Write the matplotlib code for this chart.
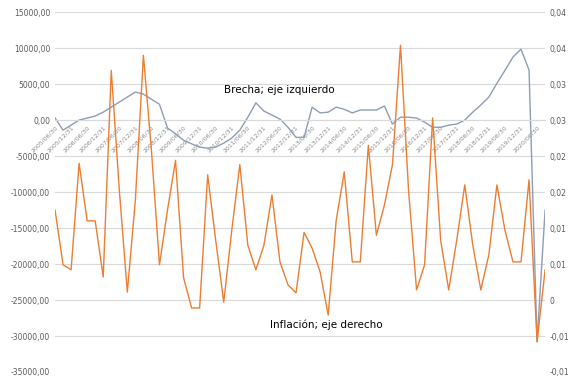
import matplotlib.pyplot as plt

# quarterly observations, labelled every two quarters
fechas = []
for year in range(2005, 2021):
    for md in ['03/31', '06/30', '09/30', '12/31']:
        fechas.append('%d/%s' % (year, md))
fechas = fechas[1:63]

brecha = [300, -1400, -700, 0, 280, 560, 1100, 1800, 2500, 3200,
          3900, 3600, 2900, 2200, -1100, -1900, -2800, -3300, -3750, -3900,
          -3750, -3200, -2500, -1400, 400, 2400, 1250, 700, 140, -1000,
          -2400, -2400, 1800, 1000, 1100, 1800, 1500, 1000, 1400, 1400,
          1400, 1950, -550, 400, 400, 280, -280, -1000, -1000, -700,
          -550, 0, 1100, 2100, 3200, 5100, 6900, 8750, 9860, 6950,
          -30800, -12500]

inflacion = [0.0125, 0.0049, 0.0042, 0.0190, 0.0110, 0.0110, 0.0032, 0.0319, 0.0153, 0.0011,
             0.0139, 0.0340, 0.0208, 0.0049, 0.0125, 0.0194, 0.0031, -0.0011, -0.0011, 0.0174,
             0.0083, -0.0003, 0.0097, 0.0188, 0.0076, 0.0042, 0.0076, 0.0146, 0.0053, 0.0021,
             0.0010, 0.0094, 0.0072, 0.0039, -0.0021, 0.0111, 0.0178, 0.0053, 0.0053, 0.0215,
             0.0090, 0.0132, 0.0188, 0.0354, 0.0153, 0.0014, 0.0049, 0.0253, 0.0083, 0.0014,
             0.0083, 0.0160, 0.0076, 0.0014, 0.0063, 0.0160, 0.0097, 0.0053, 0.0053, 0.0167,
             -0.0058, 0.0042]

left_ticks = [15000, 10000, 5000, 0, -5000, -10000, -15000, -20000, -25000, -30000, -35000]
right_ticks = [0.04, 0.035, 0.03, 0.025, 0.02, 0.015, 0.01, 0.005, 0, -0.005, -0.01]
right_labels = ['0,04', '0,04', '0,03', '0,03', '0,02', '0,02', '0,01', '0,01', '0', '-0,01', '-0,01']

fig = plt.figure(figsize=(5.69, 3.79), dpi=100)
ax = fig.add_axes([0.0967, 0.0185, 0.8613, 0.9495])
ax2 = ax.twinx()

x = list(range(len(fechas)))

ax.set_ylim(-35000, 15000)
ax.set_xlim(0, len(fechas) - 1)
ax2.set_ylim(-0.01, 0.04)

ax.set_yticks(left_ticks)
ax.set_yticklabels(['%d,00' % v for v in left_ticks])
ax2.set_yticks(right_ticks)
ax2.set_yticklabels(right_labels)

ax.grid(axis='y', color='#d9d9d9', linewidth=0.8)
ax.set_axisbelow(True)

ax.plot(x, brecha, color='#8d9db5', linewidth=1.0)
ax2.plot(x, inflacion, color='#ed7d31', linewidth=1.0)

for a in (ax, ax2):
    for s in a.spines.values():
        s.set_visible(False)
    a.tick_params(length=0, labelsize=5.5, colors='#595959')

ax.spines['bottom'].set_visible(True)
ax.spines['bottom'].set_position(('data', 0))
ax.spines['bottom'].set_color('#d9d9d9')

ax.set_xticks(x[::2])
ax.set_xticklabels(fechas[::2], rotation=45, ha='right', rotation_mode='anchor',
                   fontsize=4.5, color='#8c8c8c')

ax.text(0.457, 0.783, 'Brecha; eje izquierdo', transform=ax.transAxes, fontsize=7.5,
        ha='center', va='center', color='black')
ax.text(0.553, 0.13, 'Inflación; eje derecho', transform=ax.transAxes, fontsize=7.5,
        ha='center', va='center', color='black')

fig.savefig('out.png', dpi=100)
